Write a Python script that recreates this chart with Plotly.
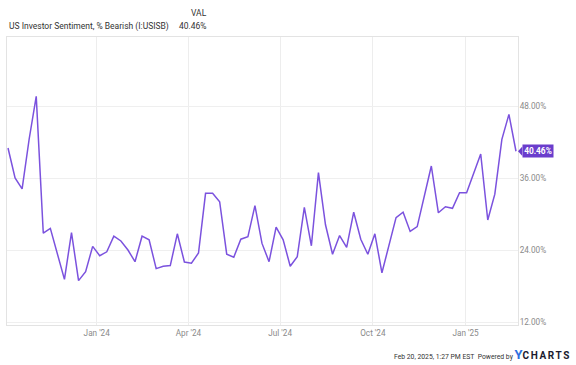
import pandas as pd
import plotly.graph_objects as go

start_date = "2023-10-05"
n_weeks = 73
bearish_pct = [
    41.0, 36.0, 34.2, 42.5, 49.6, 26.8, 27.6, 23.4, 19.1, 26.9,
    18.9, 20.4, 24.6, 23.05, 23.7, 26.3, 25.5, 24.0, 22.05, 26.3,
    25.7, 20.9, 21.3, 21.4, 26.7, 22.0, 21.8, 23.5, 33.45, 33.45,
    32.05, 23.3, 22.8, 25.8, 26.2, 31.4, 25.1, 22.05, 27.8, 25.7,
    21.3, 22.9, 31.1, 24.7, 36.9, 28.2, 23.3, 26.4, 24.45, 30.3,
    25.8, 23.3, 26.7, 20.2, 25.0, 29.4, 30.3, 27.1, 27.9, 32.9,
    38.0, 30.2, 31.2, 30.95, 33.55, 33.55, 36.8, 40.0, 29.0, 33.3,
    42.45, 46.6, 40.46,
]
dates = pd.date_range(start_date, periods=n_weeks, freq="7D")

x_tick_vals = ["2024-01-01", "2024-04-01", "2024-07-01", "2024-10-01", "2025-01-01"]
x_tick_text = ["Jan '24", "Apr '24", "Jul '24", "Oct '24", "Jan '25"]
y_tick_vals = [12, 24, 36, 48]
y_tick_text = ["12.00%", "24.00%", "36.00%", "48.00%"]

series_name = "US Investor Sentiment, % Bearish (I:USISB)"
last_val = bearish_pct[-1]
line_color = "#7b52de"
badge_color = "#6a3dcc"
FONT = "Roboto, sans-serif"

fig = go.Figure()
fig.add_trace(go.Scatter(
    x=dates, y=bearish_pct, mode="lines",
    line=dict(color=line_color, width=1.5),
    hoverinfo="skip", showlegend=False,
))

fig.update_layout(
    width=576, height=365,
    margin=dict(l=7, r=58, t=37, b=40),
    paper_bgcolor="white", plot_bgcolor="white",
    font=dict(family=FONT, color="#333"),
    xaxis=dict(
        range=[pd.Timestamp("2023-10-04"), pd.Timestamp("2025-02-22")],
        tickvals=x_tick_vals, ticktext=x_tick_text,
        showgrid=True, gridcolor="#ededed", gridwidth=1,
        showline=True, linecolor="#e3e3e3", linewidth=1, mirror=True,
        ticks="", tickfont=dict(size=8.2, color="#8a8a8a"),
        zeroline=False, fixedrange=True,
    ),
    yaxis=dict(
        side="right", range=[11.5, 59.5],
        tickvals=y_tick_vals, ticktext=y_tick_text,
        showgrid=True, gridcolor="#efefef", gridwidth=1,
        showline=True, linecolor="#e3e3e3", linewidth=1, mirror=True,
        ticks="", ticklabelstandoff=-1,
        tickfont=dict(size=8.2, color="#8a8a8a"),
        zeroline=False, fixedrange=True,
    ),
)

# header: series name and value column
fig.add_annotation(xref="paper", yref="paper", x=0, y=1.038, xanchor="left", yanchor="middle",
                   text=series_name, showarrow=False,
                   font=dict(size=8.5, color="#333"))
fig.add_annotation(xref="paper", yref="paper", x=0.395, y=1.083, xanchor="right", yanchor="middle",
                   text="VAL", showarrow=False, font=dict(size=8.5, color="#333"))
fig.add_annotation(xref="paper", yref="paper", x=0.395, y=1.038, xanchor="right", yanchor="middle",
                   text=f"{last_val:.2f}%", showarrow=False, font=dict(size=8.5, color="#333"))

# last value badge on the right axis
fig.add_annotation(xref="paper", yref="y", x=1.0, y=last_val, xanchor="left", yanchor="middle",
                   xshift=4, text=f"<b>{last_val:.2f}%</b>", showarrow=False,
                   bgcolor=badge_color, borderpad=1.2,
                   font=dict(size=8.3, color="white"))
fig.add_shape(type="path", xref="paper", yref="y", layer="above",
              path=f"M 1.0,{last_val} L 1.0085,{last_val + 0.8} L 1.0085,{last_val - 0.8} Z",
              fillcolor=badge_color, line=dict(width=0))

# footer
fig.add_annotation(xref="paper", yref="paper", x=1.107, y=-0.104, xanchor="right", yanchor="middle",
                   text="Feb 20, 2025, 1:27 PM EST  Powered by <span style='color:#2f6fe0;font-size:13px'><b>Y</b></span><span style='font-size:10px;color:#1b1b2f;letter-spacing:1.6px'><b>CHARTS</b></span>",
                   showarrow=False, font=dict(size=6.8, color="#333"))

fig.write_html("out.html", config={"displayModeBar": False},
               post_script="document.body.style.margin='0px';")
